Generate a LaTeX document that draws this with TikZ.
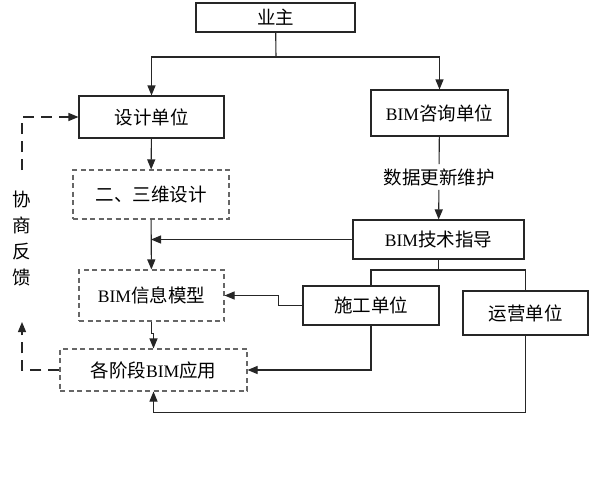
\documentclass[tikz,border=0pt]{standalone}
\usepackage{fontspec}
\setmainfont{Liberation Serif}[Scale=0.95]
\newfontfamily\cjk{Noto Sans CJK SC}
\usetikzlibrary{arrows.meta}
\begin{document}
\begin{tikzpicture}[x=1pt,y=-1pt,
  every node/.style={font=\fontsize{18.5}{22}\selectfont},
  box/.style={draw=black!85,line width=1.1pt,inner sep=0pt,rectangle},
  dbox/.style={box,draw=black!60,dash pattern=on 5pt off 3.5pt},
  arr/.style={-{Triangle[length=10pt,width=8pt]}},
  ln/.style={line width=1.1pt,draw=black!85},
  fb/.style={ln,dash pattern=on 11pt off 7pt}]
\useasboundingbox (0,0) rectangle (592,479);
\fill[white] (0,0) rectangle (592,479);
\node[box,minimum width=159pt,minimum height=29pt] (owner) at (275.5,17.5) {\cjk 业主};
\node[box,minimum width=145pt,minimum height=42pt] (design) at (151.5,117) {\cjk 设计单位};
\node[box,minimum width=137pt,minimum height=46pt] (consult) at (439.5,113) {BIM{\cjk 咨询单位}};
\node[dbox,minimum width=156pt,minimum height=49pt] (sanwei) at (151,194.5) {\cjk 二、三维设计};
\node[box,minimum width=171pt,minimum height=39pt] (tech) at (438.5,239.5) {BIM{\cjk 技术指导}};
\node[dbox,minimum width=145pt,minimum height=51pt] (model) at (151.5,295.5) {BIM{\cjk 信息模型}};
\node[box,minimum width=136pt,minimum height=39pt] (construct) at (371,305.5) {\cjk 施工单位};
\node[box,minimum width=125pt,minimum height=44pt] (operate) at (525.5,313) {\cjk 运营单位};
\node[dbox,minimum width=187pt,minimum height=42pt] (stage) at (153.5,370) {{\cjk 各阶段}BIM{\cjk 应用}};
\node[inner sep=4pt] (lbl) at (439,177) {\cjk 数据更新维护};
\node[inner sep=0pt,align=center,font=\fontsize{18.5}{26}\selectfont\cjk] (fbtext) at (22,238.5) {协\\商\\反\\馈};

\coordinate (j1) at (276,57);
\coordinate (j2) at (438.5,270);
\coordinate (t1) at (151,239.5);
\coordinate (fb1) at (22,322);
\coordinate (fb2) at (22,170);

\draw[ln] (owner) -- (j1);
\draw[ln,arr] (j1) -| (design);
\draw[ln,arr] (j1) -| (consult);
\draw[ln,arr] (design) -- (sanwei);
\draw[ln,arr] (sanwei) -- (model);
\draw[ln,arr] (tech.west) -- (t1);
\draw[ln] (consult) -- (lbl);
\draw[ln,arr] (lbl) -- (tech);
\draw[ln] (tech) -- (j2);
\draw[ln] (j2) -| (construct);
\draw[ln] (j2) -| (operate);
\draw[ln,arr] (construct.west) -- ++(-24,0) |- (model.east);
\draw[ln,arr] (model.south) -- ++(0,12) -| (stage.north);
\draw[ln,arr] (construct.south) |- (stage.east);
\draw[ln,arr] (operate.south) -- ++(0,77) -| (stage.south);
\draw[fb,arr] (stage.west) -| (fb1);
\draw[fb,arr] (fb2) |- (design.west);
\end{tikzpicture}
\end{document}
